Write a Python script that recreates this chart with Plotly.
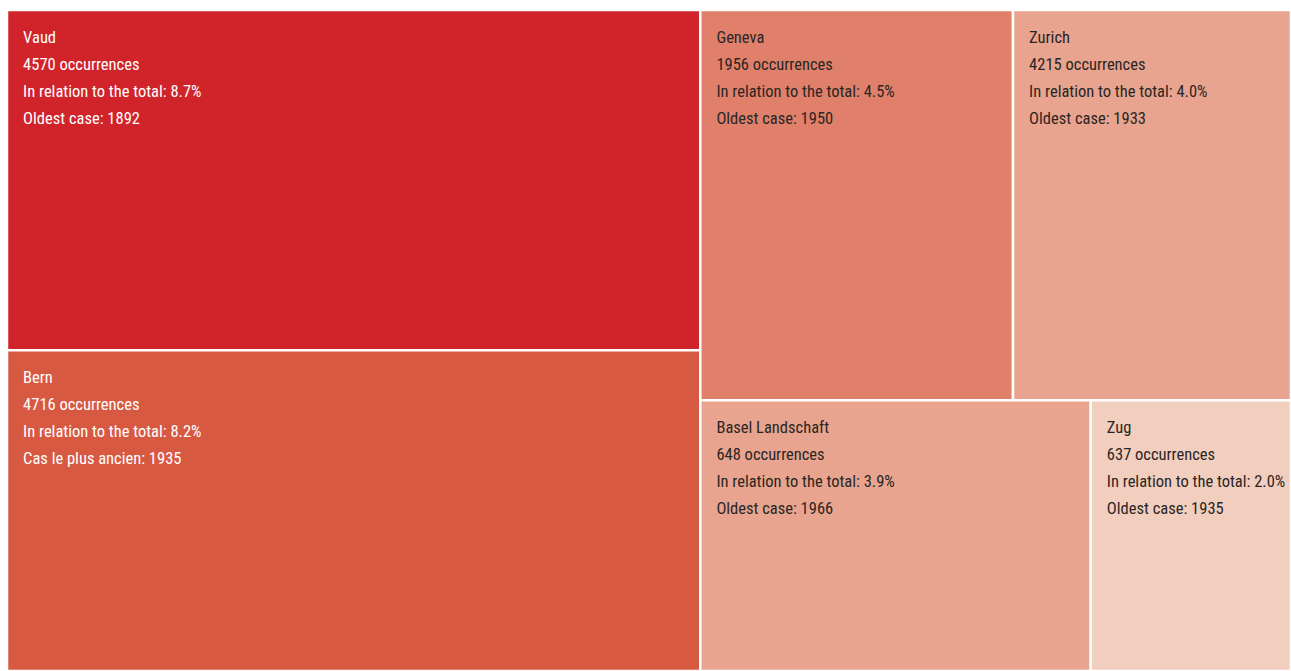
import plotly.graph_objects as go

# Cantons and their figures
cantons = ["Vaud", "Bern", "Geneva", "Zurich", "Basel Landschaft", "Zug"]
occurrences = [4570, 4716, 1956, 4215, 648, 637]
share_pct = [8.7, 8.2, 4.5, 4.0, 3.9, 2.0]
oldest_case = [1892, 1935, 1950, 1933, 1966, 1935]
oldest_label = ["Oldest case", "Cas le plus ancien", "Oldest case",
                "Oldest case", "Oldest case", "Oldest case"]

tile_colors = ["#D0232A", "#D85942", "#E0806A", "#E8A48E", "#E8A48E", "#F2CEBF"]
text_colors = ["#FFFFFF", "#FFFFFF", "#2B2624", "#2B2624", "#2B2624", "#2B2624"]

LABEL_PX = 16.5          # visible label size
BASE_PX = 10.4           # line step = 1.3 * BASE_PX; two steps per label line
SPACER_PX = 3.5          # small top spacer that sets the gap above the first line
INDENT = "\u00a0" * 3 + "\u200a"


def tile_text(lines):
    """Build a label with a top spacer and double-stepped lines."""
    spacer = f'<span style="font-size:{SPACER_PX}px">\u00a0</span>'
    parts = [spacer]
    for ln in lines:
        parts.append("")
        parts.append(f'<span style="font-size:{LABEL_PX}px">{INDENT}{ln}</span>')
    return "<br>".join(parts)


labels = [
    tile_text([c, f"{n} occurrences", f"In relation to the total: {p:.1f}%", f"{ol}: {y}"])
    for c, n, p, ol, y in zip(cantons, occurrences, share_pct, oldest_label, oldest_case)
]

fig = go.Figure(
    go.Treemap(
        ids=cantons,
        labels=cantons,
        parents=[""] * len(cantons),
        values=share_pct,
        text=labels,
        textinfo="text",
        textposition="top left",
        sort=False,
        tiling=dict(packing="squarify", squarifyratio=1.618034, pad=0),
        marker=dict(colors=tile_colors, line=dict(color="#FFFFFF", width=2.5),
                    pad=dict(t=0, l=0, r=0, b=0)),
        textfont=dict(family="Roboto Condensed, sans-serif", size=BASE_PX, color=text_colors),
        pathbar=dict(visible=False),
        hoverinfo="skip",
    )
)

fig.update_layout(
    width=1291,
    height=671,
    margin=dict(l=7, r=0, t=10, b=0),
    paper_bgcolor="#FFFFFF",
)

fig.write_html("out.html")
